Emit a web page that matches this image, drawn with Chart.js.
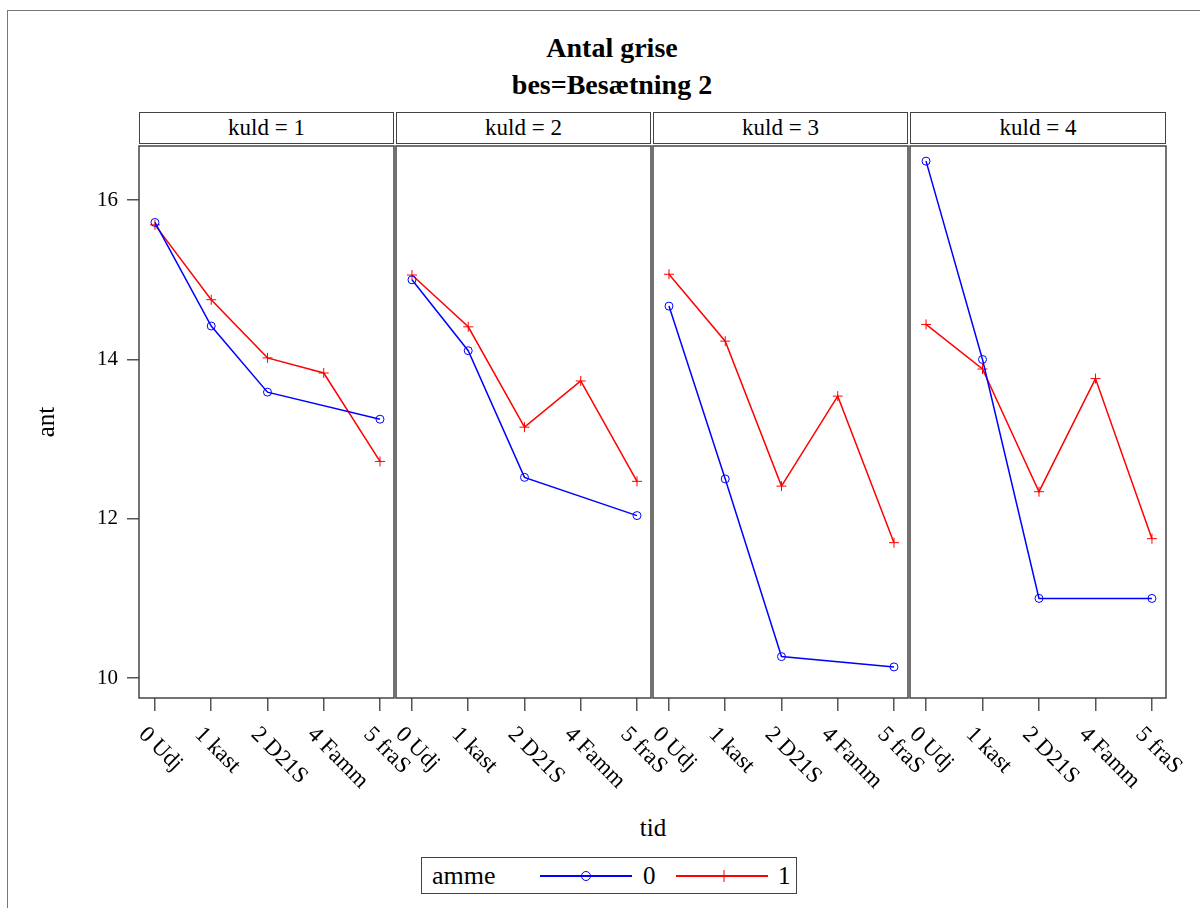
<!DOCTYPE html>
<html>
<head>
<meta charset="utf-8">
<script src="https://cdn.jsdelivr.net/npm/chart.js@4.4.0/dist/chart.umd.min.js"></script>
<style>
    body { margin: 0; background: #fff; }
    #page, #page div, #page span { font-family: "Liberation Serif", "Times New Roman", serif; color: #000; }
    #page { position: relative; width: 1200px; height: 908px; overflow: hidden; }
    .abs { position: absolute; }
    .strip { position: absolute; box-sizing: border-box; border: 1.5px solid #444; text-align: center; font-size: 23px; line-height: 29px; }
    .titulo { position: absolute; left: 362px; width: 500px; text-align: center; font-weight: bold; font-size: 28px; }
</style>
</head>
<body>
<div id="page">
    <div class="abs" style="left:7px; top:10px; width:1300px; height:1000px; border-top:1.5px solid #777; border-left:1.5px solid #777;"></div>
    <div class="titulo" style="top:32px;">Antal grise</div>
    <div class="titulo" style="top:69px;">bes=Besætning 2</div>
    <div id="strips"></div>
    <div id="paineis"></div>
    <div class="abs" style="left:603px; width:100px; top:814px; text-align:center; font-size:25px;">tid</div>
    <div class="abs" style="left:421px; top:857px; width:376px; height:37px; box-sizing:border-box; border:1.5px solid #444;">
        <span class="abs" style="left:10px; top:3px; font-size:26px;">amme</span>
        <svg class="abs" style="left:0; top:0;" width="376" height="37">
            <line x1="118" y1="18" x2="210" y2="18" stroke="#0000ff" stroke-width="2"/>
            <circle cx="164" cy="18" r="4.5" fill="none" stroke="#0000ff" stroke-width="1"/>
            <line x1="254" y1="18" x2="346" y2="18" stroke="#ff0000" stroke-width="2"/>
            <line x1="302" y1="12" x2="302" y2="24" stroke="#ff0000" stroke-width="1"/>
        </svg>
        <span class="abs" style="left:221px; top:4px; font-size:25px;">0</span>
        <span class="abs" style="left:356px; top:4px; font-size:25px;">1</span>
    </div>
</div>
<script>
// dados
const categorias = ['0 Udj', '1 kast', '2 D21S', '4 Famm', '5 fraS'];
const yTicks = [10, 12, 14, 16];
const kuldLabels = ['kuld = 1', 'kuld = 2', 'kuld = 3', 'kuld = 4'];
const kuld1Amme0 = [15.72, 14.42, 13.59, null, 13.25];
const kuld1Amme1 = [15.69, 14.75, 14.02, 13.83, 12.72];
const kuld2Amme0 = [15.00, 14.11, 12.52, null, 12.04];
const kuld2Amme1 = [15.06, 14.41, 13.15, 13.73, 12.47];
const kuld3Amme0 = [14.67, 12.50, 10.27, null, 10.14];
const kuld3Amme1 = [15.07, 14.23, 12.41, 13.54, 11.70];
const kuld4Amme0 = [16.49, 14.00, 11.00, null, 11.00];
const kuld4Amme1 = [14.44, 13.88, 12.34, 13.76, 11.75];

const amme0 = [kuld1Amme0, kuld2Amme0, kuld3Amme0, kuld4Amme0];
const amme1 = [kuld1Amme1, kuld2Amme1, kuld3Amme1, kuld4Amme1];

// posição de cada painel (área do gráfico)
const molduras = [[139, 394], [396, 651], [653, 908], [910, 1166]];
const topo = 146;
const base = 698;
const folgaDireita = 50; // espaço para os rótulos girados

// moldura e rótulos girados do eixo x
const molduraPlugin = {
    id: 'moldura',
    afterDraw(chart) {
        const ctx = chart.ctx;
        const a = chart.chartArea;
        ctx.save();
        ctx.strokeStyle = '#444';
        ctx.lineWidth = 1.5;
        ctx.strokeRect(a.left, a.top, a.right - a.left, a.bottom - a.top);

        const x = chart.scales.x;
        ctx.fillStyle = '#000';
        ctx.font = '23px "Liberation Serif"';
        ctx.textAlign = 'left';
        ctx.textBaseline = 'middle';
        categorias.forEach((c, i) => {
            const px = x.getPixelForValue(i);
            ctx.save();
            ctx.translate(px - 13, a.bottom + 33);
            ctx.rotate(Math.PI / 4);
            ctx.fillText(c, 0, 0);
            ctx.restore();
        });
        ctx.restore();
    }
};

const stripsDiv = document.getElementById('strips');
const paineisDiv = document.getElementById('paineis');

molduras.forEach((m, i) => {
    const strip = document.createElement('div');
    strip.className = 'strip';
    strip.style.left = m[0] + 'px';
    strip.style.width = (m[1] - m[0]) + 'px';
    strip.style.top = '112px';
    strip.style.height = '32px';
    strip.textContent = kuldLabels[i];
    stripsDiv.appendChild(strip);

    const primeiro = i === 0;
    const esquerda = primeiro ? 0 : m[0] - 2;
    const largura = m[1] + folgaDireita - esquerda;
    const altura = 2 + (base - topo) + 100;

    const canvas = document.createElement('canvas');
    canvas.width = largura;
    canvas.height = altura;
    canvas.style.position = 'absolute';
    canvas.style.left = esquerda + 'px';
    canvas.style.top = (topo - 2) + 'px';
    paineisDiv.appendChild(canvas);

    new Chart(canvas.getContext('2d'), {
        type: 'line',
        data: {
            datasets: [
                {
                    label: '0',
                    data: amme0[i].map((v, k) => ({ x: k, y: v })),
                    borderColor: '#0000ff',
                    borderWidth: 1.5,
                    pointStyle: 'circle',
                    pointRadius: 4,
                    pointBorderWidth: 1,
                    pointBorderColor: '#0000ff',
                    pointBackgroundColor: 'rgba(0,0,0,0)',
                    spanGaps: true,
                    tension: 0
                },
                {
                    label: '1',
                    data: amme1[i].map((v, k) => ({ x: k, y: v })),
                    borderColor: '#ff0000',
                    borderWidth: 1.5,
                    pointStyle: 'cross',
                    pointRadius: 5,
                    pointBorderWidth: 1,
                    pointBorderColor: '#ff0000',
                    spanGaps: true,
                    tension: 0
                }
            ]
        },
        options: {
            responsive: false,
            animation: false,
            devicePixelRatio: 1,
            layout: { autoPadding: false, padding: { left: 2, right: folgaDireita, top: 2, bottom: 0 } },
            plugins: {
                legend: { display: false },
                tooltip: { enabled: false }
            },
            scales: {
                x: {
                    type: 'linear',
                    min: -0.284,
                    max: 4.249,
                    afterBuildTicks: (s) => { s.ticks = categorias.map((c, k) => ({ value: k })); },
                    afterFit: (s) => {
                        s.height = 100;
                        s.paddingLeft = 0;
                        s.paddingRight = 0;
                    },
                    ticks: { display: false },
                    grid: { drawOnChartArea: false, tickLength: 13, color: '#555', lineWidth: 1.5 },
                    border: { display: false }
                },
                y: {
                    type: 'linear',
                    display: primeiro,
                    min: 9.75,
                    max: 16.68,
                    afterBuildTicks: (s) => { s.ticks = yTicks.map(v => ({ value: v })); },
                    afterFit: (s) => {
                        s.width = primeiro ? 137 : 0;
                        s.paddingTop = 0;
                        s.paddingBottom = 0;
                    },
                    ticks: {
                        color: '#000',
                        padding: 9,
                        font: { family: '"Liberation Serif"', size: 21 }
                    },
                    grid: { drawOnChartArea: false, tickLength: 12, color: '#555', lineWidth: 1.5 },
                    border: { display: false },
                    title: {
                        display: true,
                        text: 'ant',
                        color: '#000',
                        padding: { top: 30, bottom: 0 },
                        font: { family: '"Liberation Serif"', size: 25 }
                    }
                }
            }
        },
        plugins: [molduraPlugin]
    });
});
</script>
</body>
</html>
